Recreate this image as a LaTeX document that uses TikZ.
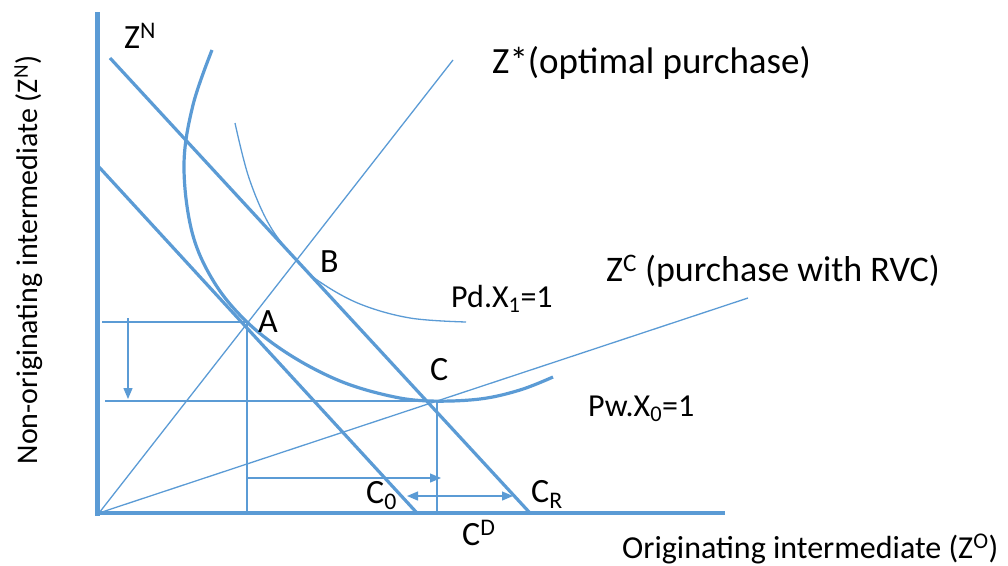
\documentclass[tikz,border=0pt]{standalone}
\usepackage{fontspec}
\setmainfont{Carlito}
\usetikzlibrary{arrows.meta}
\definecolor{lb}{HTML}{5B9BD5}
\begin{document}
\begin{tikzpicture}[x=1pt,y=-1pt,
  thick line/.style={draw=lb,line width=3.2pt},
  thin line/.style={draw=lb,line width=1.3pt},
  axis line/.style={draw=lb,line width=5pt},
  tip/.style={-{Triangle[length=11pt,width=9pt]}},
  dtip/.style={{Triangle[length=11pt,width=9pt]}-{Triangle[length=11pt,width=9pt]}},
  lbl/.style={font=\fontsize{34}{40}\selectfont,inner sep=0pt}]
\useasboundingbox (0,0) rectangle (1008,565);
% key points
\coordinate (O) at (99,513);
\coordinate (A) at (247,322);
\coordinate (B) at (298,262);
\coordinate (C) at (430,401);
\coordinate (ZNtop) at (110,58);
\coordinate (CR) at (530,513);
\coordinate (L0) at (99,167);
\coordinate (C0) at (417,513);
\coordinate (ZStop) at (453,60);
\coordinate (ZCtop) at (748,298);
\coordinate (Ya) at (97,12);
\coordinate (Yb) at (97,516);
\coordinate (Xa) at (95,513);
\coordinate (Xb) at (725,513);
% axes
\draw[axis line] (Ya) -- (Yb);
\draw[line width=4pt,draw=lb] (Xa) -- (Xb);
% budget lines
\draw[thick line] (ZNtop) -- (CR);
\draw[thick line] (L0) -- (C0);
% rays
\draw[thin line] (O) -- (ZStop);
\draw[thin line] (O) -- (ZCtop);
% isoquants
\draw[thick line] plot[smooth,tension=0.6] coordinates {(212,50) (193,105) (184,165) (192,232) (214,282) (247,322) (290,355) (340,381) (390,396) (430,401) (480,399) (520,390) (553,377)};
\draw[thin line] plot[smooth,tension=0.6] coordinates {(235,123) (249,178) (270,226) (298,262) (320,282) (360,304) (410,318) (466,322)};
% guide lines
\coordinate (Ah) at (102,322);
\coordinate (Av) at (247,513);
\coordinate (Ch) at (105,401);
\coordinate (Cv1) at (437,401);
\coordinate (Cv2) at (437,513);
\draw[thin line] (Ah) -- (A) -- (Av);
\draw[thin line] (Ch) -- (C);
\draw[thin line] (C) -- (Cv1) -- (Cv2);
% arrows
\coordinate (d1) at (128,318);
\coordinate (d2) at (128,399);
\draw[thin line,tip] (d1) -- (d2);
\coordinate (r1) at (248,478);
\coordinate (r2) at (441,478);
\draw[thin line,tip] (r1) -- (r2);
\coordinate (s1) at (407,496);
\coordinate (s2) at (513,496);
\draw[thin line,dtip] (s1) -- (s2);
% labels
\node[lbl,anchor=base west] (tZN) at (124,48) {Z\textsuperscript{N}};
\node[lbl,anchor=base west,font=\fontsize{37}{42}\selectfont] (tZS) at (492,73) {Z*(optimal purchase)};
\node[lbl,anchor=base west] (tB) at (320,272) {B};
\node[lbl,anchor=base west] (tA) at (258,332) {A};
\node[lbl,anchor=base west] (tC) at (430,380) {C};
\node[lbl,anchor=base west,font=\fontsize{32}{38}\selectfont] (tPd) at (451,307) {Pd.X\textsubscript{1}=1};
\node[lbl,anchor=base west,font=\fontsize{36}{42}\selectfont] (tZC) at (606,281) {Z\textsuperscript{C} (purchase with RVC)};
\node[lbl,anchor=base west,font=\fontsize{32}{38}\selectfont] (tPw) at (588,416) {Pw.X\textsubscript{0}=1};
\node[lbl,anchor=base west] (tC0) at (366,503) {C\textsubscript{0}};
\node[lbl,anchor=base west] (tCR) at (531,502) {C\textsubscript{R}};
\node[lbl,anchor=base west] (tCD) at (462,545) {C\textsuperscript{D}};
\node[lbl,anchor=base west,font=\fontsize{32}{38}\selectfont] (tX) at (622,558) {Originating intermediate (Z\textsuperscript{O})};
\node[lbl,rotate=90,anchor=base,font=\fontsize{30}{36}\selectfont] (tY) at (37,260) {Non-originating intermediate (Z\textsuperscript{N})};
\end{tikzpicture}
\end{document}
